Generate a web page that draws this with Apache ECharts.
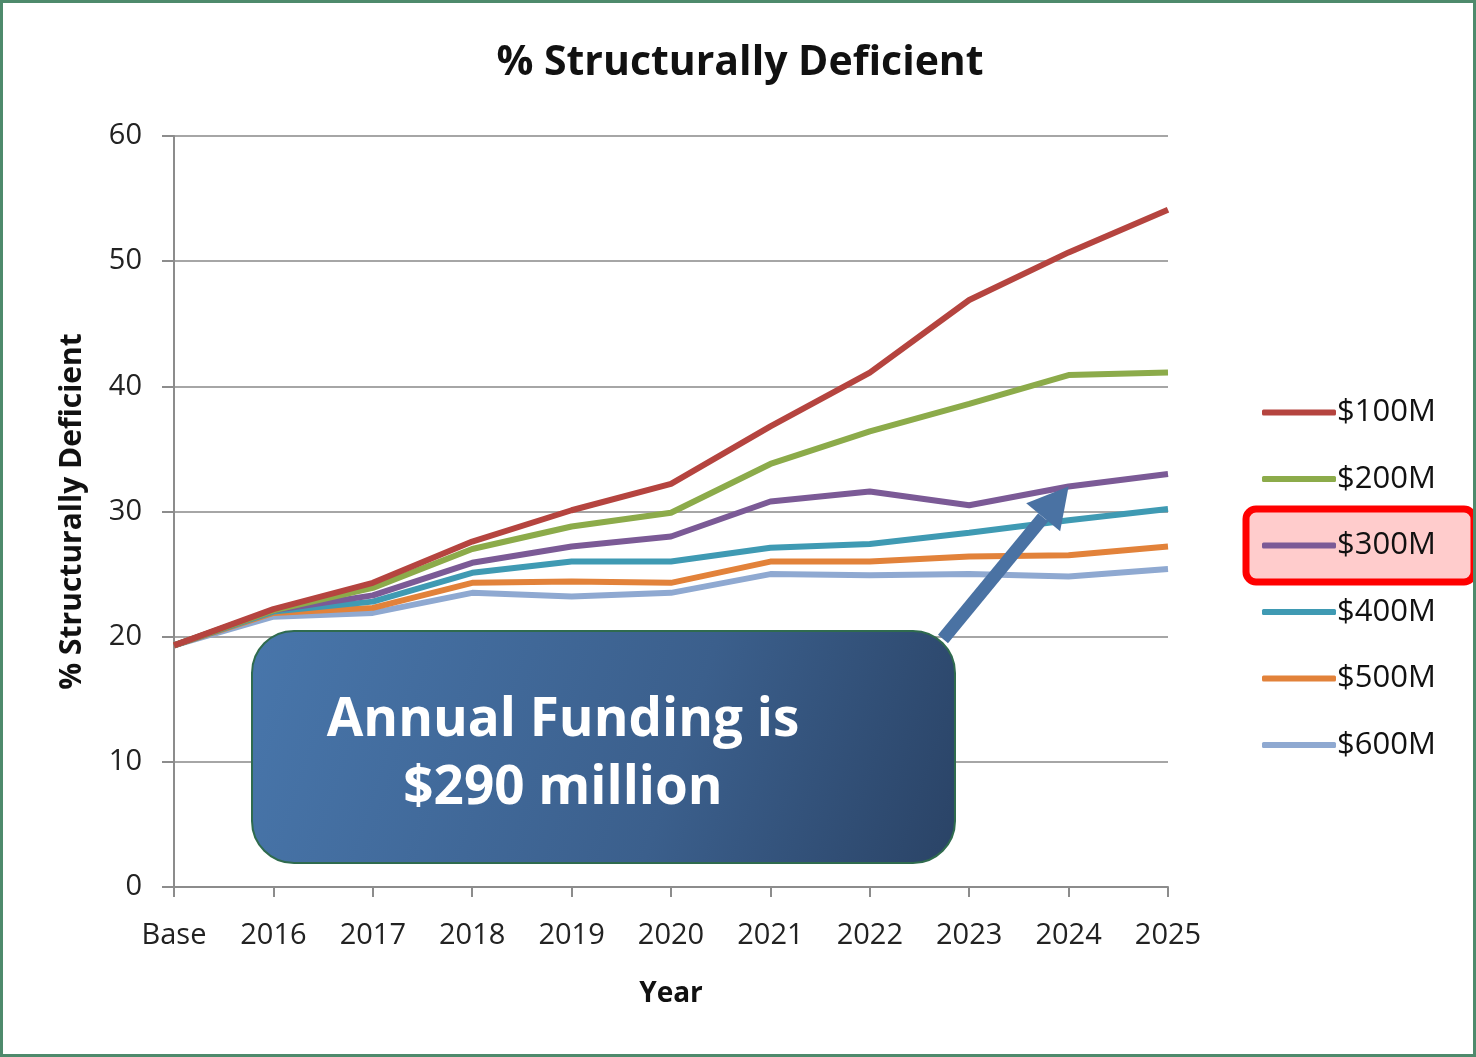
<!DOCTYPE html>
<html>
<head>
<meta charset="utf-8">
<script src="https://cdn.jsdelivr.net/npm/echarts@6/dist/echarts.min.js"></script>
<style>
  html, body { margin: 0; padding: 0; background: #fff; }
  #chart { width: 1476px; height: 1057px; box-sizing: border-box; border: 3px solid #4e8a6c; }
</style>
</head>
<body>
<div id="chart"></div>
<script>
// data
const years = ['Base', '2016', '2017', '2018', '2019', '2020', '2021', '2022', '2023', '2024', '2025']
const fund100 = [19.3, 22.2, 24.3, 27.6, 30.1, 32.2, 36.8, 41.1, 46.9, 50.7, 54.1]
const fund200 = [19.3, 22.1, 23.9, 27.0, 28.8, 29.9, 33.8, 36.4, 38.6, 40.9, 41.1]
const fund300 = [19.3, 22.1, 23.3, 25.9, 27.2, 28.0, 30.8, 31.6, 30.5, 32.0, 33.0]
const fund400 = [19.3, 22.0, 22.8, 25.1, 26.0, 26.0, 27.1, 27.4, 28.3, 29.3, 30.2]
const fund500 = [19.3, 21.9, 22.3, 24.3, 24.4, 24.3, 26.0, 26.0, 26.4, 26.5, 27.2]
const fund600 = [19.3, 21.6, 21.9, 23.5, 23.2, 23.5, 25.0, 24.9, 25.0, 24.8, 25.4]
const seriesNames = ['$100M', '$200M', '$300M', '$400M', '$500M', '$600M']
const colors = ['#b5443f', '#8cab4a', '#7b5a96', '#3f9ab3', '#e2823a', '#8fa9d1']

const font = '"Open Sans", "Liberation Sans", sans-serif'
const chart = echarts.init(document.getElementById('chart'))

const allData = [fund100, fund200, fund300, fund400, fund500, fund600]

chart.setOption({
  animation: false,
  textStyle: { fontFamily: font },
  title: {
    text: '% Structurally Deficient',
    left: 732,
    textAlign: 'center',
    top: 35,
    textStyle: { fontSize: 41, fontWeight: 'bold', color: '#111', fontFamily: font }
  },
  grid: { left: 171, right: 305, top: 133, bottom: 167, containLabel: false },
  legend: {
    orient: 'vertical',
    left: 1254,
    top: 389,
    itemWidth: 74,
    itemHeight: 6,
    itemGap: 35.5,
    icon: 'roundRect',
    data: seriesNames,
    textStyle: { fontSize: 31, color: '#111', padding: [0, 0, 0, -4] }
  },
  xAxis: {
    type: 'category',
    data: years,
    boundaryGap: false,
    name: 'Year',
    nameLocation: 'middle',
    nameGap: 93,
    nameTextStyle: { fontSize: 28, fontWeight: 'bold', color: '#111' },
    axisLine: { lineStyle: { color: '#8c8c8c', width: 2 } },
    axisTick: { show: true, length: 10, lineStyle: { color: '#8c8c8c', width: 2 } },
    axisLabel: { fontSize: 29, color: '#222', margin: 34 },
    splitLine: { show: false }
  },
  yAxis: {
    type: 'value',
    min: 0,
    max: 60,
    interval: 10,
    name: '% Structurally Deficient',
    nameLocation: 'middle',
    nameGap: 87,
    nameTextStyle: { fontSize: 30, fontWeight: 'bold', color: '#111' },
    axisLine: { show: true, lineStyle: { color: '#8c8c8c', width: 2 } },
    axisTick: { show: true, length: 12, lineStyle: { color: '#8c8c8c', width: 2 } },
    axisLabel: { fontSize: 29, color: '#222', margin: 32 },
    splitLine: { lineStyle: { color: '#a6a6a6', width: 2 } }
  },
  series: seriesNames.map((n, i) => ({
    name: n,
    type: 'line',
    data: allData[i],
    symbol: 'none',
    color: colors[i],
    lineStyle: { width: 6, color: colors[i] },
    z: 10 - i
  }))
})

// annotation box, arrow and legend highlight
const tip = chart.convertToPixel({ seriesIndex: 2 }, ['2024', fund300[9]])
const tail = [940, 636]
const ang = Math.atan2(tip[1] - tail[1], tip[0] - tail[0])
const headLen = 40, headW = 22
const baseX = tip[0] - headLen * Math.cos(ang), baseY = tip[1] - headLen * Math.sin(ang)
const px = -Math.sin(ang), py = Math.cos(ang)

chart.setOption({
  graphic: [
    {
      type: 'line',
      shape: { x1: tail[0], y1: tail[1], x2: baseX, y2: baseY },
      style: { stroke: '#4a72a3', lineWidth: 13 },
      z: 100
    },
    {
      type: 'polygon',
      shape: { points: [[tip[0], tip[1]], [baseX + px * headW, baseY + py * headW], [baseX - px * headW, baseY - py * headW]] },
      style: { fill: '#4a72a3' },
      z: 100
    },
    {
      type: 'rect',
      shape: { x: 249, y: 628, width: 703, height: 232, r: 42 },
      style: {
        fill: new echarts.graphic.LinearGradient(0, 0, 1, 1, [
          { offset: 0, color: '#4876ab' },
          { offset: 0.6, color: '#3b5f8c' },
          { offset: 1, color: '#2a4366' }
        ]),
        stroke: '#2f6b4e',
        lineWidth: 2
      },
      z: 101
    },
    {
      type: 'text',
      z: 102,
      style: {
        text: 'Annual Funding is',
        x: 560, y: 718,
        fill: '#ffffff',
        font: 'bold 53px ' + font,
        align: 'center',
        verticalAlign: 'middle'
      }
    },
    {
      type: 'text',
      z: 102,
      style: {
        text: '$290 million',
        x: 560, y: 786,
        fill: '#ffffff',
        font: 'bold 53px ' + font,
        align: 'center',
        verticalAlign: 'middle'
      }
    },
    {
      type: 'rect',
      shape: { x: 1243, y: 506, width: 228, height: 73, r: 10 },
      style: { fill: 'rgba(255,170,170,0.6)', stroke: '#ff0000', lineWidth: 7 },
      z: 0
    }
  ]
})
</script>
</body>
</html>
